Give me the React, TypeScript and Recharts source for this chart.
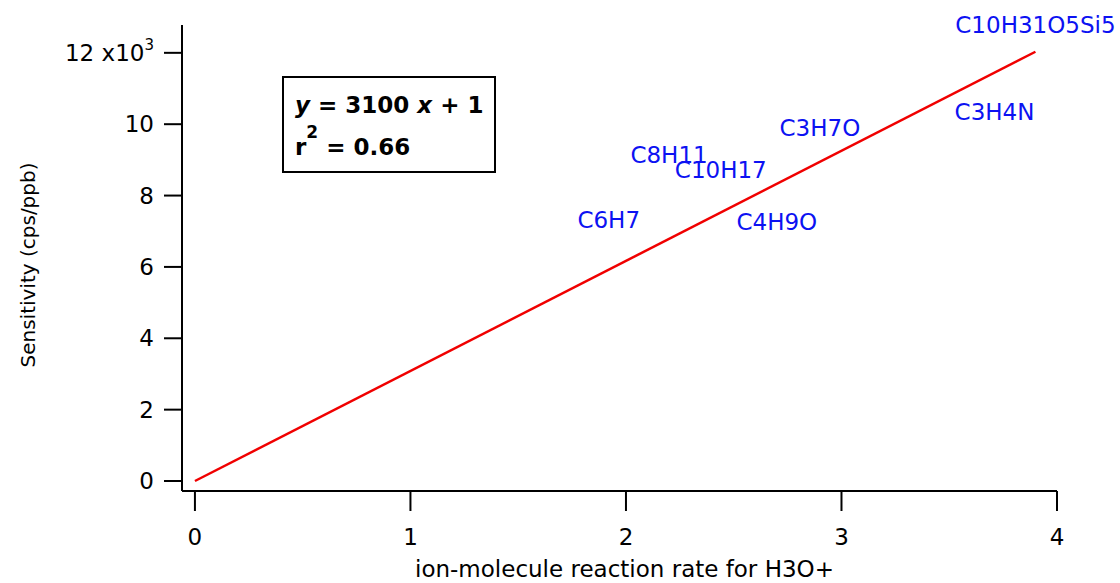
import { Customized, Scatter, ScatterChart, XAxis, YAxis } from 'recharts';

const FONT = '"DejaVu Sans", "Liberation Sans", sans-serif';

const xTicks = [0, 1, 2, 3, 4];
const yTicks = [0, 2000, 4000, 6000, 8000, 10000, 12000];

// ion labels placed at (reaction rate, sensitivity)
const ionNames = ['C10H31O5Si5', 'C3H4N', 'C3H7O', 'C8H11', 'C10H17', 'C6H7', 'C4H9O'];
const ionRates = [3.9, 3.71, 2.9, 2.2, 2.44, 1.92, 2.7];
const ionSensitivity = [12780, 10350, 9900, 9140, 8720, 7320, 7260];

// linear fit end points
const fitRates = [0, 3.9];
const fitSensitivity = [0, 12030];

const ions = ionNames.map((name, i) => ({ name, x: ionRates[i], y: ionSensitivity[i] }));
const fit = fitRates.map((x, i) => ({ x, y: fitSensitivity[i] }));

function IonLabel(props: any) {
  const { cx, cy, payload } = props;
  return (
    <text x={cx} y={cy} dy={8} textAnchor="middle" fontSize={23} fontFamily={FONT} fill="#0c12f2">
      {payload.name}
    </text>
  );
}

function YTick(props: any) {
  const { x, y, payload } = props;
  const v = payload.value / 1000;
  return (
    <text x={x} y={y} dy={8} textAnchor="end" fontSize={23} fontFamily={FONT} fill="#000">
      {v === 12 ? (
        <>
          12 x10
          <tspan fontSize={15} dy={-11}>3</tspan>
        </>
      ) : (
        v
      )}
    </text>
  );
}

function XTick(props: any) {
  const { x, y, payload } = props;
  return (
    <text x={x} y={y} dy={34} textAnchor="middle" fontSize={23} fontFamily={FONT} fill="#000">
      {payload.value}
    </text>
  );
}

function YTitle(props: any) {
  const vb = props.viewBox || { x: 0, y: 25, width: 182, height: 466 };
  const x = vb.x + 28;
  const y = vb.y + vb.height / 2 + 7;
  return (
    <text
      x={x}
      y={y}
      dy={7}
      transform={`rotate(-90, ${x}, ${y})`}
      textAnchor="middle"
      fontSize={20}
      fontFamily={FONT}
      fill="#000"
    >
      Sensitivity (cps/ppb)
    </text>
  );
}

function XTitle(props: any) {
  const vb = props.viewBox || { x: 182, y: 491, width: 875, height: 92 };
  return (
    <text
      x={vb.x + vb.width / 2 + 5}
      y={vb.y + 86}
      textAnchor="middle"
      fontSize={23}
      fontFamily={FONT}
      fill="#000"
    >
      ion-molecule reaction rate for H3O+
    </text>
  );
}

function EquationBox() {
  return (
    <g fontFamily={FONT} fontWeight="bold" fontSize={23} fill="#000">
      <rect x={283} y={77} width={212} height={95} fill="#fff" stroke="#000" strokeWidth={2} />
      <text x={295} y={113}>
        <tspan fontStyle="italic">y</tspan> = 3100 <tspan fontStyle="italic">x</tspan> + 1
      </text>
      <text x={295} y={155}>
        r<tspan fontSize={17} dy={-17}>2</tspan>
        <tspan dy={17}> = 0.66</tspan>
      </text>
    </g>
  );
}

export default function App() {
  return (
    <div style={{ position: 'absolute', left: 0, top: 0, background: '#fff' }}>
      <ScatterChart width={1120} height={583} margin={{ top: 25, right: 63, bottom: 0, left: 0 }}>
        <XAxis
          type="number"
          dataKey="x"
          domain={[-0.06, 4]}
          ticks={xTicks}
          height={92}
          stroke="#000"
          strokeWidth={2}
          tickSize={20}
          tickMargin={0}
          tick={<XTick />}
          label={<XTitle />}
        />
        <YAxis
          type="number"
          dataKey="y"
          domain={[-280, 12780]}
          ticks={yTicks}
          width={182}
          stroke="#000"
          strokeWidth={2}
          tickSize={18}
          tickMargin={10}
          tick={<YTick />}
          label={<YTitle />}
        />
        <Customized component={EquationBox} />
        <Scatter data={ions} shape={<IonLabel />} isAnimationActive={false} />
        <Scatter
          data={fit}
          line={{ stroke: '#f00000', strokeWidth: 2.5 }}
          shape={() => <g />}
          isAnimationActive={false}
        />
      </ScatterChart>
    </div>
  );
}
